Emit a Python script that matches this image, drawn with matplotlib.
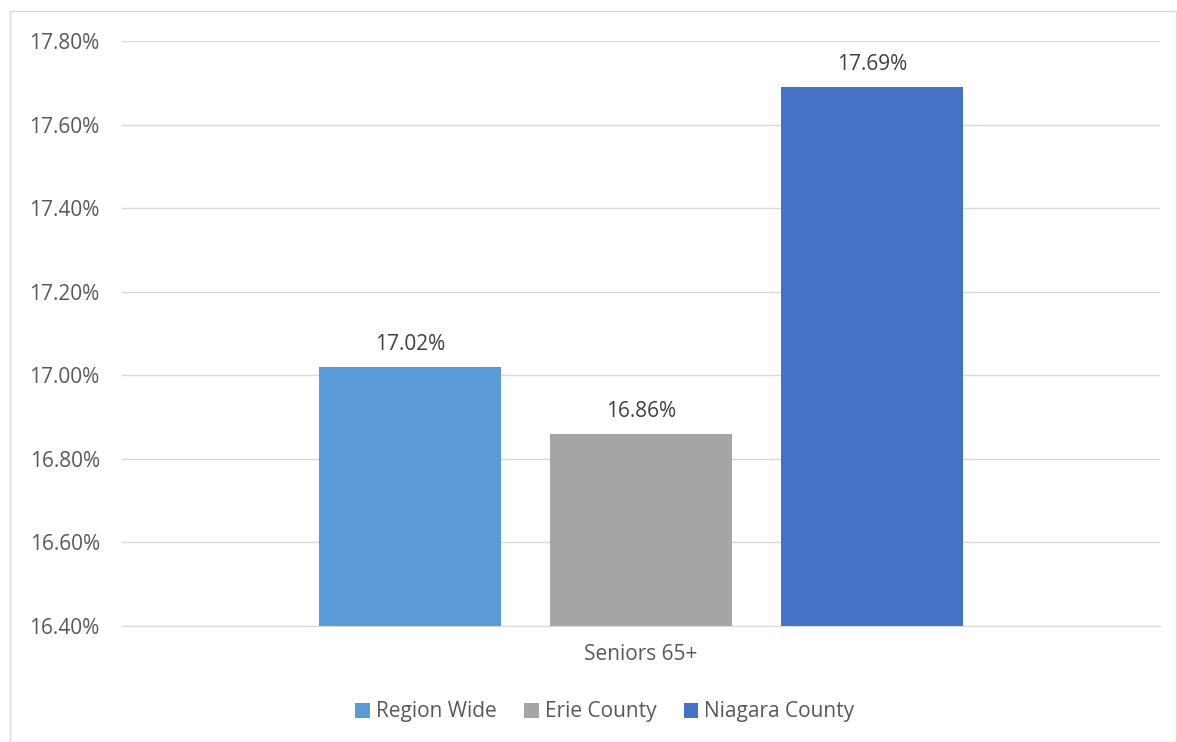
import matplotlib.pyplot as plt
from matplotlib.patches import Rectangle
from matplotlib.ticker import FuncFormatter

# data
series = ["Region Wide", "Erie County", "Niagara County"]
values = [17.02, 16.86, 17.69]
colors = ["#5B9BD5", "#A5A5A5", "#4472C4"]
category = "Seniors 65+"
y_ticks = [16.40, 16.60, 16.80, 17.00, 17.20, 17.40, 17.60, 17.80]

plt.rcParams["font.family"] = ["Open Sans", "DejaVu Sans"]
text_color = "#595959"
fs = 15

fig = plt.figure(figsize=(11.77, 7.42), dpi=100)
ax = fig.add_axes([122 / 1177, 1 - 626 / 742, 1038 / 1177, 585 / 742])

# outer chart border
fig.patches.append(Rectangle((10 / 1177, 0.5 / 742), 1166 / 1177, 731 / 742,
                             transform=fig.transFigure, fill=False,
                             edgecolor="#D9D9D9", linewidth=1))

width = 182 / 231
offsets = [-1, 0, 1]
for off, val, col, name in zip(offsets, values, colors, series):
    ax.bar(off, val - 16.40, bottom=16.40, width=width, color=col, label=name, zorder=3)
    ax.annotate(f"{val:.2f}%", (off, val), xytext=(0, 16), textcoords="offset points",
                ha="center", va="center", fontsize=fs, color="#404040")

ax.set_xlim(-519 / 231, 519 / 231)
ax.set_ylim(16.40, 17.80)
ax.set_yticks(y_ticks)
ax.yaxis.set_major_formatter(FuncFormatter(lambda v, p: f"{v:.2f}%"))
ax.set_xticks([0])
ax.set_xticklabels([category])
ax.tick_params(axis="both", length=0, labelsize=fs, labelcolor=text_color)
ax.tick_params(axis="y", pad=16)
ax.tick_params(axis="x", pad=13)
ax.yaxis.grid(True, color="#D9D9D9", linewidth=1, zorder=0)
for s in ["top", "right", "left"]:
    ax.spines[s].set_visible(False)
ax.spines["bottom"].set_color("#D9D9D9")
ax.spines["bottom"].set_zorder(4)

leg = fig.legend(loc="center", bbox_to_anchor=(605 / 1177, 1 - 712 / 742), ncol=3,
                 frameon=False, fontsize=fs, handlelength=0.7, handleheight=0.7,
                 handletextpad=0.3, columnspacing=1.3)
for t in leg.get_texts():
    t.set_color(text_color)

fig.savefig("out.png", dpi=100)
